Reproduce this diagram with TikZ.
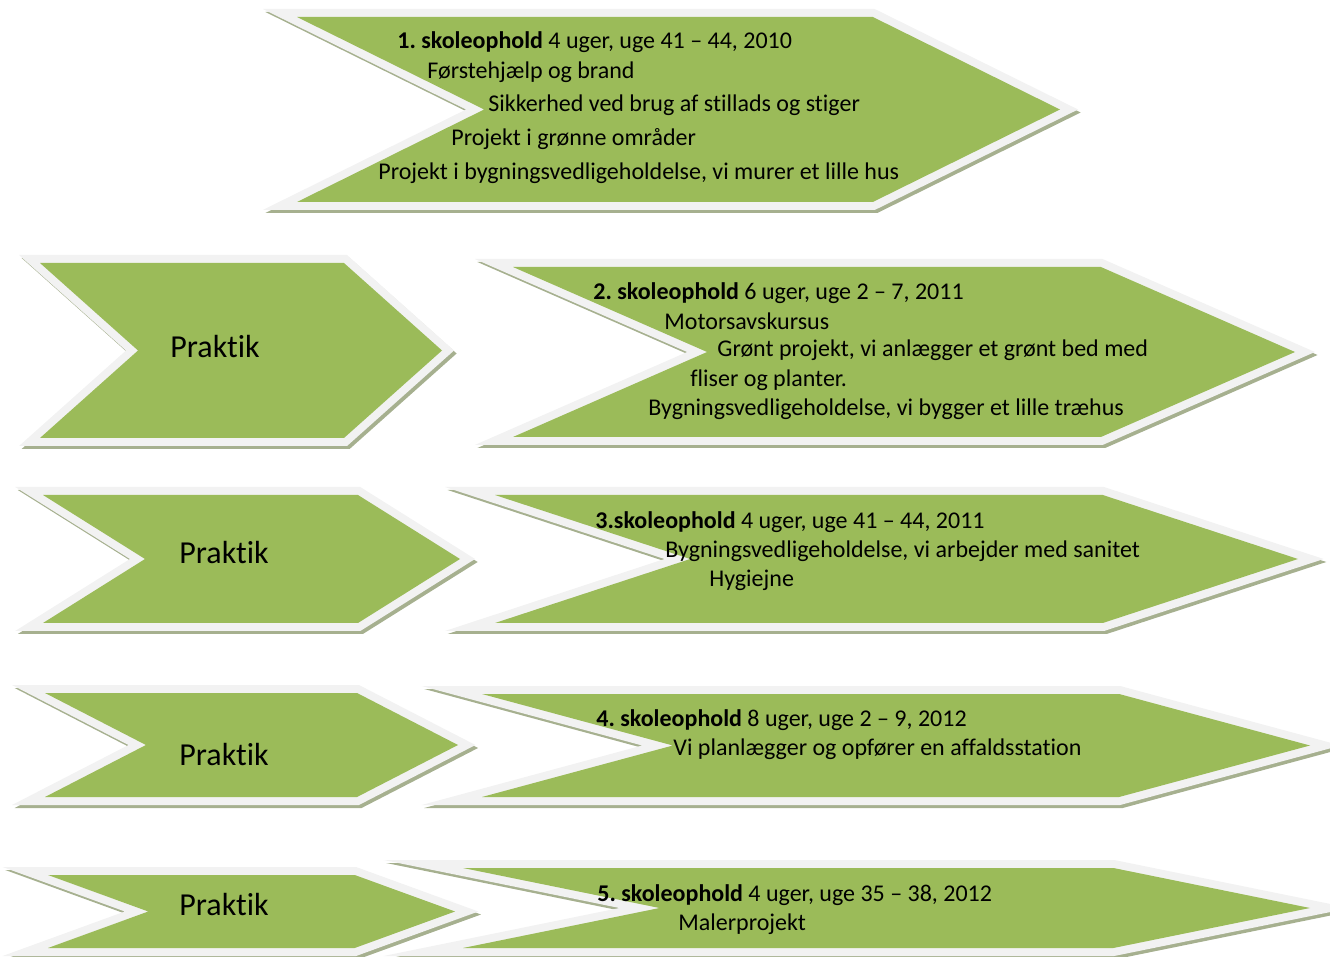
\documentclass[tikz,border=0pt]{standalone}
\usepackage{fontspec}
\setmainfont{Carlito}[Ligatures=NoCommon]
\frenchspacing
\usetikzlibrary{
    shapes.symbols,
    shadows
}
\definecolor{leaf}{HTML}{9BBB59}
\definecolor{rim}{HTML}{F2F2F2}
\definecolor{shadowgreen}{HTML}{A6B08F}
\tikzset{
    % Chevron with light rim and offset shadow
    chevron/.style={
        signal,
        signal from=west,
        signal to=east,
        signal pointer angle=#1,
        inner sep=0pt,
        outer sep=0pt,
        fill=leaf,
        miter limit=25,
        general shadow={fill=shadowgreen, draw=shadowgreen, line width=8pt, miter limit=25,
            shadow xshift=1.3pt, shadow yshift=-1.5pt},
        preaction={draw=rim, line width=8pt, miter limit=25}
    },
    % Text lines inside a chevron
    line text/.style={
        anchor=west,
        inner sep=0pt,
        font=\fontsize{12}{14}\selectfont
    },
    praktik text/.style={
        anchor=west,
        inner sep=0pt,
        font=\fontsize{16}{19}\selectfont
    }
}

\begin{document}
\begin{tikzpicture}[x=0.5pt, y=-0.5pt]
    \useasboundingbox (0,0) rectangle (1330,957);

    % Praktik chevrons
    \node[chevron=83.5, minimum width=201pt, minimum height=87.5pt] (praktik2) at (241,350.5) {};
    \node[chevron=64.2, minimum width=208.5pt, minimum height=64pt] (praktik3) at (251.5,559) {};
    \node[chevron=54.5, minimum width=206.5pt, minimum height=52pt] (praktik4) at (251.5,745) {};
    \node[chevron=40, minimum width=203.5pt, minimum height=36.5pt] (praktik5) at (251.5,911.5) {};

    % Skoleophold chevrons
    \node[chevron=52.6, minimum width=381.5pt, minimum height=92.5pt] (skole1) at (678.5,109.5) {};
    \node[chevron=47.3, minimum width=391pt, minimum height=85pt] (skole2) at (904,352) {};
    \node[chevron=36.3, minimum width=401.5pt, minimum height=64pt] (skole3) at (896.5,559) {};
    \node[chevron=30.2, minimum width=414pt, minimum height=51.5pt] (skole4) at (896,745.5) {};
    \node[chevron=23, minimum width=423.5pt, minimum height=40pt] (skole5) at (886.5,908) {};

    % Praktik labels
    \node[praktik text] (p2) at (170,347) {Praktik};
    \node[praktik text] (p3) at (179,553) {Praktik};
    \node[praktik text] (p4) at (179,755) {Praktik};
    \node[praktik text] (p5) at (179,905) {Praktik};

    % 1. skoleophold
    \node[line text] (s1a) at (397,42) {\textbf{1. skoleophold} 4 uger, uge 41 – 44, 2010};
    \node[line text] (s1b) at (427,72) {Førstehjælp og brand};
    \node[line text] (s1c) at (488,105) {Sikkerhed ved brug af stillads og stiger};
    \node[line text] (s1d) at (451,139) {Projekt i grønne områder};
    \node[line text] (s1e) at (378,173) {Projekt i bygningsvedligeholdelse, vi murer et lille hus};

    % 2. skoleophold
    \node[line text] (s2a) at (593,293) {\textbf{2. skoleophold} 6 uger, uge 2 – 7, 2011};
    \node[line text] (s2b) at (664,321) {Motorsavskursus};
    \node[line text] (s2c) at (717,350) {Grønt projekt, vi anlægger et grønt bed med};
    \node[line text] (s2d) at (690,380) {fliser og planter.};
    \node[line text] (s2e) at (648,409) {Bygningsvedligeholdelse, vi bygger et lille træhus};

    % 3. skoleophold
    \node[line text] (s3a) at (595,522) {\textbf{3.skoleophold} 4 uger, uge 41 – 44, 2011};
    \node[line text] (s3b) at (665,551) {Bygningsvedligeholdelse, vi arbejder med sanitet};
    \node[line text] (s3c) at (709,580) {Hygiejne};

    % 4. skoleophold
    \node[line text] (s4a) at (596,720) {\textbf{4. skoleophold} 8 uger, uge 2 – 9, 2012};
    \node[line text] (s4b) at (673,749) {Vi planlægger og opfører en affaldsstation};

    % 5. skoleophold
    \node[line text] (s5a) at (597,895) {\textbf{5. skoleophold} 4 uger, uge 35 – 38, 2012};
    \node[line text] (s5b) at (678,924) {Malerprojekt};

\end{tikzpicture}
\end{document}
